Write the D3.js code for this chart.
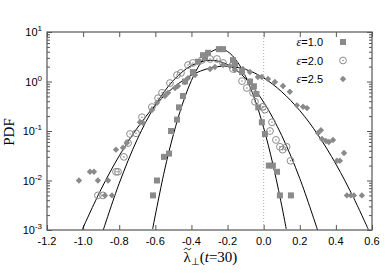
<!DOCTYPE html>
<html>
<head>
<meta charset="utf-8">
<script src="https://cdn.jsdelivr.net/npm/d3@7"></script>
<style>
  body { margin: 0; background: #fff; }
  text { font-family: "Liberation Sans", Arial, sans-serif; fill: #000; }
  .serif { font-family: "Liberation Serif", "Times New Roman", serif; }
</style>
</head>
<body>
<div id="chart"></div>
<script>
; (function () {
    // tick labels
    const xTicks = [-1.2, -1.0, -0.8, -0.6, -0.4, -0.2, 0.0, 0.2, 0.4, 0.6]
    const xTickLabels = ["-1.2", "-1.0", "-0.8", "-0.6", "-0.4", "-0.2", "0.0", "0.2", "0.4", "0.6"]
    const yTicks = [1e-3, 1e-2, 1e-1, 1, 10]
    const yTickExp = ["-3", "-2", "-1", "0", "1"]

    const legendLabels = ["=1.0", "=2.0", "=2.5"]

    // measured points [lambda, pdf]
    const eps10 = [[-0.613, 0.005], [-0.591, 0.01], [-0.552, 0.03], [-0.524, 0.035], [-0.513, 0.1],
        [-0.48, 0.17], [-0.469, 0.3], [-0.447, 0.51], [-0.436, 1.0], [-0.392, 1.55], [-0.364, 2.5],
        [-0.336, 3.4], [-0.325, 3.1], [-0.308, 3.8], [-0.248, 4.5], [-0.225, 4.5], [-0.17, 2.7],
        [-0.159, 2.26], [-0.12, 1.55], [-0.076, 1.0], [-0.054, 0.8], [-0.04, 0.56], [-0.03, 0.3],
        [-0.01, 0.15], [0.007, 0.087], [0.029, 0.02], [0.051, 0.02], [0.074, 0.015], [0.09, 0.005], [0.151, 0.005]]

    const eps20 = [[-0.918, 0.005], [-0.89, 0.005], [-0.818, 0.015], [-0.807, 0.015], [-0.774, 0.03],
        [-0.751, 0.057], [-0.74, 0.087], [-0.707, 0.09], [-0.674, 0.19], [-0.619, 0.305], [-0.585, 0.46],
        [-0.563, 0.59], [-0.519, 0.93], [-0.48, 1.35], [-0.458, 1.49], [-0.419, 2.15], [-0.392, 2.37],
        [-0.342, 2.72], [-0.297, 2.85], [-0.259, 2.85], [-0.225, 2.37], [-0.17, 1.79], [-0.12, 1.02],
        [-0.093, 0.74], [-0.059, 0.59], [-0.048, 0.39], [-0.004, 0.31], [0.007, 0.27], [0.046, 0.15],
        [0.035, 0.1], [0.068, 0.066], [0.09, 0.048], [0.105, 0.042], [0.127, 0.048], [0.149, 0.025]]

    const eps25 = [[-1.023, 0.01], [-0.962, 0.015], [-0.94, 0.015], [-0.918, 0.01], [-0.862, 0.01],
        [-0.879, 0.005], [-0.84, 0.005], [-0.818, 0.042], [-0.779, 0.046], [-0.757, 0.058], [-0.685, 0.15],
        [-0.668, 0.145], [-0.619, 0.265], [-0.591, 0.37], [-0.547, 0.51], [-0.53, 0.59], [-0.491, 0.74],
        [-0.475, 0.81], [-0.436, 0.98], [-0.419, 1.17], [-0.38, 1.35], [-0.297, 1.79], [-0.27, 1.96],
        [-0.225, 2.15], [-0.187, 2.06], [-0.159, 1.71], [-0.115, 1.79], [-0.076, 1.56], [-0.032, 1.23],
        [-0.01, 1.23], [0.024, 1.12], [0.062, 0.98], [0.107, 0.81], [0.145, 0.62], [0.184, 0.33],
        [0.218, 0.31], [0.24, 0.29], [0.301, 0.091], [0.317, 0.104], [0.323, 0.069], [0.345, 0.063],
        [0.361, 0.06], [0.384, 0.066], [0.406, 0.025], [0.422, 0.025], [0.445, 0.036], [0.461, 0.005],
        [0.483, 0.005], [0.5, 0.005], [0.544, 0.005]]

    // fitted curves
    const fit10 = [[-0.615, 0.00105], [-0.55, 0.0155], [-0.5, 0.085], [-0.45, 0.348], [-0.4, 1.05],
        [-0.35, 2.33], [-0.3, 3.8], [-0.245, 4.57], [-0.2, 4.04], [-0.15, 2.63], [-0.1, 1.26],
        [-0.05, 0.445], [0.0, 0.116], [0.05, 0.0221], [0.1, 0.00312], [0.125, 0.00105]]
    const fit20 = [[-0.89, 0.00096], [-0.8, 0.00877], [-0.7, 0.0678], [-0.6, 0.333], [-0.5, 1.05],
        [-0.4, 2.10], [-0.295, 2.69], [-0.2, 2.20], [-0.1, 1.15], [0.0, 0.382], [0.1, 0.081],
        [0.2, 0.011], [0.3, 0.00096]]
    const fit25 = [[-1.005, 0.00102], [-0.9, 0.0067], [-0.8, 0.0315], [-0.7, 0.115], [-0.6, 0.333],
        [-0.5, 0.753], [-0.4, 1.34], [-0.3, 1.86], [-0.213, 2.04], [-0.1, 1.75], [0.0, 1.18],
        [0.1, 0.62], [0.2, 0.259], [0.3, 0.0843], [0.4, 0.0215], [0.5, 0.00432], [0.58, 0.00102]]

    const margin = { top: 32, right: 18, bottom: 44, left: 47 }
    const width = 390 - margin.left - margin.right,
        height = 274 - margin.top - margin.bottom;

    const grey = "#8a8a8a"
    const frame = "#555"

    const svg = d3.select("#chart")
        .append("svg")
        .attr("width", 390)
        .attr("height", 274)
        .append("g")
        .attr("transform", "translate(" + margin.left + "," + margin.top + ")")

    const x = d3.scaleLinear().domain([-1.2, 0.6]).range([0, width])
    const y = d3.scaleLog().domain([1e-3, 10]).range([height, 0])

    svg.append("clipPath").attr("id", "plot-clip")
        .append("rect").attr("width", width).attr("height", height)

    // minor log ticks
    const minor = []
    for (let e = -3; e < 1; e++) {
        for (let m = 2; m <= 9; m++) minor.push(m * Math.pow(10, e))
    }

    // ticks on all four sides, pointing inward
    const leftAxis = d3.axisLeft(y).tickValues(yTicks).tickSize(-5).tickFormat("")
    const leftMinor = d3.axisLeft(y).tickValues(minor).tickSize(-3).tickFormat("")
    const rightAxis = d3.axisRight(y).tickValues(yTicks).tickSize(-5).tickFormat("")
    const rightMinor = d3.axisRight(y).tickValues(minor).tickSize(-3).tickFormat("")
    const bottomAxis = d3.axisBottom(x).tickValues(xTicks).tickSize(-5).tickFormat("")
    const topAxis = d3.axisTop(x).tickValues(xTicks).tickSize(-5).tickFormat("")

    svg.append("g").attr("class", "axis").call(leftAxis)
    svg.append("g").attr("class", "axis").call(leftMinor)
    svg.append("g").attr("class", "axis").attr("transform", "translate(" + width + ",0)").call(rightAxis)
    svg.append("g").attr("class", "axis").attr("transform", "translate(" + width + ",0)").call(rightMinor)
    svg.append("g").attr("class", "axis").attr("transform", "translate(0," + height + ")").call(bottomAxis)
    svg.append("g").attr("class", "axis").call(topAxis)
    svg.selectAll(".axis path").remove()
    svg.selectAll(".axis line").attr("stroke", frame).attr("stroke-width", 1)

    // x tick labels
    svg.selectAll(".xlab")
        .data(xTicks)
        .enter().append("text")
        .attr("x", d => x(d))
        .attr("y", height + 15)
        .attr("text-anchor", "middle")
        .style("font-size", "11px")
        .text((d, i) => xTickLabels[i])

    // y tick labels 10^n
    const ylab = svg.selectAll(".ylab")
        .data(yTicks)
        .enter().append("text")
        .attr("x", -5)
        .attr("y", d => y(d) + 4)
        .attr("text-anchor", "end")
        .style("font-size", "11px")
    ylab.append("tspan").text("10")
    ylab.append("tspan").attr("dy", -5).style("font-size", "8px").text((d, i) => yTickExp[i])

    // dotted zero line
    svg.append("line")
        .attr("x1", x(0)).attr("x2", x(0))
        .attr("y1", 0).attr("y2", height)
        .attr("stroke", "#999")
        .attr("stroke-width", 0.8)
        .attr("stroke-dasharray", "1,2")

    // fits
    const line = d3.line()
        .x(d => x(d[0]))
        .y(d => y(d[1]))
        .curve(d3.curveCatmullRom)

    const fits = svg.append("g").attr("clip-path", "url(#plot-clip)")
    ;[fit10, fit20, fit25].forEach(f => {
        fits.append("path")
            .datum(f)
            .attr("fill", "none")
            .attr("stroke", "#000")
            .attr("stroke-width", 1)
            .attr("d", line)
    })

    // markers
    const square = (g, cx, cy) => g.append("rect")
        .attr("x", cx - 3).attr("y", cy - 3).attr("width", 6).attr("height", 6)
        .attr("fill", grey)
    const circle = (g, cx, cy) => {
        g.append("circle").attr("cx", cx).attr("cy", cy).attr("r", 3.4)
            .attr("fill", "none").attr("stroke", grey).attr("stroke-width", 1)
        g.append("circle").attr("cx", cx).attr("cy", cy).attr("r", 0.8).attr("fill", grey)
    }
    const diamond = (g, cx, cy) => g.append("path")
        .attr("d", "M" + cx + "," + (cy - 3.2) + "L" + (cx + 3.2) + "," + cy + "L" + cx + "," + (cy + 3.2) + "L" + (cx - 3.2) + "," + cy + "Z")
        .attr("fill", grey)

    const pts = svg.append("g").attr("clip-path", "url(#plot-clip)")
    eps10.forEach(d => square(pts, x(d[0]), y(d[1])))
    eps20.forEach(d => circle(pts, x(d[0]), y(d[1])))
    eps25.forEach(d => diamond(pts, x(d[0]), y(d[1])))

    // legend
    const markers = [square, circle, diamond]
    legendLabels.forEach((lab, i) => {
        const ly = 14 + i * 18.5
        const t = svg.append("text")
            .attr("x", 276)
            .attr("y", ly)
            .attr("text-anchor", "end")
            .style("font-size", "11px")
        t.append("tspan").attr("class", "serif").style("font-style", "italic").style("font-size", "12px").text("ε")
        t.append("tspan").text(lab)
        markers[i](svg, 296, ly - 4)
    })

    // frame
    svg.append("rect")
        .attr("width", width).attr("height", height)
        .attr("fill", "none")
        .attr("stroke", frame)
        .attr("stroke-width", 1.2)

    // axis titles
    svg.append("text")
        .attr("class", "serif")
        .attr("transform", "translate(" + (-33) + "," + (y(0.1) + 1) + ") rotate(-90)")
        .attr("text-anchor", "middle")
        .style("font-size", "15px")
        .text("PDF")

    const tx = x(-0.4) - 8
    const ty = height + 32
    const xt = svg.append("text")
        .attr("class", "serif")
        .attr("x", tx)
        .attr("y", ty)
        .style("font-size", "15px")
    xt.append("tspan").text("λ")
    xt.append("tspan").attr("dy", 3).style("font-size", "10px").text("⊥")
    xt.append("tspan").attr("dy", -3).text("(")
    xt.append("tspan").style("font-style", "italic").text("t")
    xt.append("tspan").text("=30)")

    // tilde accent over the lambda
    const cx = tx + 4, cy = ty - 13
    svg.append("path")
        .attr("d", "M" + (cx - 3.5) + "," + (cy + 1) +
            " C" + (cx - 2.2) + "," + (cy - 1.6) + " " + (cx - 0.8) + "," + (cy - 0.6) + " " + cx + "," + cy +
            " S" + (cx + 2.2) + "," + (cy + 1.6) + " " + (cx + 3.5) + "," + (cy - 1))
        .attr("fill", "none")
        .attr("stroke", "#000")
        .attr("stroke-width", 0.9)
})()
</script>
</body>
</html>
